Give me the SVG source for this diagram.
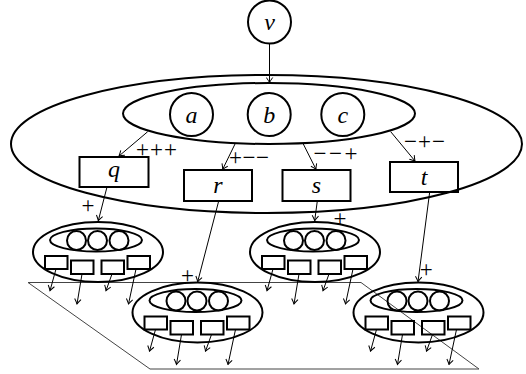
<svg xmlns="http://www.w3.org/2000/svg" width="526" height="374" viewBox="0 0 526 374">
<style>
.n{fill:none;stroke:#000;stroke-width:2}
.e{fill:none;stroke:#000;stroke-width:1}
.lbl{font-family:'Liberation Serif','Times New Roman','DejaVu Serif',serif;font-style:italic;font-size:24px;text-anchor:middle;fill:#000}
.sg{font-family:'Liberation Serif','Times New Roman','DejaVu Serif',serif;font-size:23px;text-anchor:middle;fill:#000}
.pl{fill:none;stroke:#444;stroke-width:1}
</style>
<defs>
<marker id="ah" viewBox="-6 -4 7 8" refX="0" refY="0" markerWidth="7" markerHeight="8" markerUnits="userSpaceOnUse" orient="auto">
<path d="M-5,-3.2 Q-2,-1 0,0 Q-2,1 -5,3.2" fill="none" stroke="#000" stroke-width="1"/>
</marker>
<g id="cl">
<ellipse class="n" cx="98" cy="252" rx="65" ry="30"/>
<ellipse class="n" cx="96" cy="240" rx="46" ry="11.5"/>
<circle class="n" cx="76.5" cy="240.5" r="9.5"/>
<circle class="n" cx="97.5" cy="240.5" r="9.5"/>
<circle class="n" cx="119" cy="240.5" r="9.5"/>
<rect class="n" x="45" y="256" width="22.5" height="13"/>
<rect class="n" x="71" y="260.5" width="22.5" height="13.5"/>
<rect class="n" x="101.5" y="260.5" width="22.5" height="13.5"/>
<rect class="n" x="127.5" y="256" width="22.5" height="13"/>
<line class="e" x1="56" y1="269" x2="50" y2="290.7" marker-end="url(#ah)"/>
<line class="e" x1="82" y1="274" x2="77" y2="304" marker-end="url(#ah)"/>
<line class="e" x1="112" y1="274" x2="106" y2="290.7" marker-end="url(#ah)"/>
<line class="e" x1="136" y1="269" x2="128.5" y2="304" marker-end="url(#ah)"/>
</g>
</defs>
<polygon class="pl" points="28,282.5 361,282.5 479,369 150,369"/>
<g id="node-v"><circle class="n" cx="269.5" cy="22" r="21.5"/><text class="lbl" x="269.5" y="29.5">v</text></g>
<g id="node-outer"><ellipse class="n" cx="266.5" cy="144" rx="255.5" ry="69"/></g>
<g id="node-inner"><ellipse class="n" cx="269" cy="113.5" rx="146" ry="30.5"/></g>
<g id="node-a"><circle class="n" cx="191.5" cy="114.5" r="21.5"/><text class="lbl" x="191.5" y="122.5">a</text></g>
<g id="node-b"><circle class="n" cx="269.2" cy="114.5" r="21.5"/><text class="lbl" x="269.2" y="123">b</text></g>
<g id="node-c"><circle class="n" cx="342.8" cy="114.5" r="21.5"/><text class="lbl" x="342.8" y="122.5">c</text></g>
<g id="node-q"><rect class="n" x="79.5" y="157" width="69" height="30"/><text class="lbl" x="114" y="177">q</text></g>
<g id="node-r"><rect class="n" x="184" y="170" width="68" height="31"/><text class="lbl" x="218" y="192.5">r</text></g>
<g id="node-s"><rect class="n" x="282.5" y="170" width="68" height="31"/><text class="lbl" x="316.5" y="192.5">s</text></g>
<g id="node-t"><rect class="n" x="390" y="162" width="68" height="30"/><text class="lbl" x="424" y="184.5">t</text></g>
<g id="cluster-1"><use href="#cl"/></g>
<g id="cluster-2"><use href="#cl" transform="translate(99.5,60.5)"/></g>
<g id="cluster-3"><use href="#cl" transform="translate(217,0)"/></g>
<g id="cluster-4"><use href="#cl" transform="translate(320.5,60.5)"/></g>
<g id="connectors">
<line class="e" x1="269.5" y1="44" x2="269.5" y2="82.5" marker-end="url(#ah)"/>
<line class="e" x1="147.7" y1="131.7" x2="119" y2="156" marker-end="url(#ah)"/>
<line class="e" x1="235" y1="144" x2="222.7" y2="169.3" marker-end="url(#ah)"/>
<line class="e" x1="303.3" y1="144" x2="316" y2="169.3" marker-end="url(#ah)"/>
<line class="e" x1="390.7" y1="131.7" x2="415" y2="161" marker-end="url(#ah)"/>
<line class="e" x1="107" y1="187" x2="98.3" y2="220.7" marker-end="url(#ah)"/>
<line class="e" x1="218.7" y1="201" x2="197.7" y2="281.7" marker-end="url(#ah)"/>
<line class="e" x1="317.3" y1="201" x2="314.7" y2="220.7" marker-end="url(#ah)"/>
<line class="e" x1="429.7" y1="192" x2="418" y2="281.7" marker-end="url(#ah)"/>
</g>
<g id="labels">
<text class="sg" x="156.5" y="156.5" textLength="41" lengthAdjust="spacing">+++</text>
<text class="sg" x="249" y="165" textLength="40" lengthAdjust="spacing">+−−</text>
<text class="sg" x="335.5" y="161" textLength="44" lengthAdjust="spacing">−−+</text>
<text class="sg" x="424.5" y="148.5" textLength="41" lengthAdjust="spacing">−+−</text>
<text class="sg" x="88" y="213">+</text>
<text class="sg" x="187.5" y="282.5">+</text>
<text class="sg" x="340" y="225.5">+</text>
<text class="sg" x="426.3" y="276.5">+</text>
</g>
</svg>
